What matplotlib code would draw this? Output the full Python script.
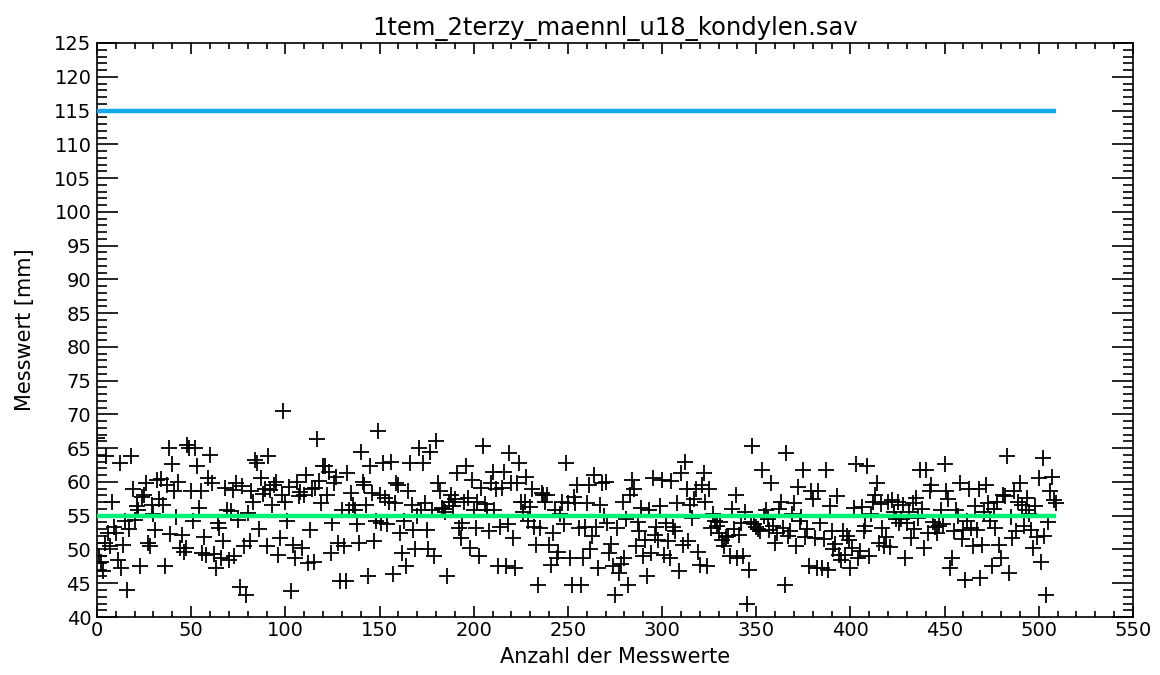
import numpy as np
import matplotlib
matplotlib.use("Agg")
import matplotlib.pyplot as plt
from matplotlib.ticker import MultipleLocator

title = "1tem_2terzy_maennl_u18_kondylen.sav"
xlabel = "Anzahl der Messwerte"
ylabel = "Messwert [mm]"

upper_limit = 115.0
mean_value = 55.0

seg1 = [66.5, 49.0, 48.2, 46.8, 51.0, 63.8, 52.4, 50.5, 57.1, 53.4, 52.4, 48.5, 62.8, 47.3,
        50.7, 54.2, 44.0, 53.0, 63.9, 58.9, 54.4, 56.4, 55.9, 47.6, 57.8, 58.1, 59.8, 51.0, 50.5,
        56.6, 55.2, 52.9, 60.3, 57.5, 60.4, 56.6, 47.5, 59.6, 65.0, 52.3, 62.6, 58.6, 54.8, 60.0, 50.2]
seg2 = [52.2, 49.7, 50.2, 65.5, 65.0, 58.6, 54.2, 65.0, 62.3, 56.1, 58.6, 49.5, 51.9, 49.2,
        60.6, 64.0, 59.8, 49.3, 47.2, 53.9, 53.2, 48.7, 51.2, 59.1, 55.9, 48.5, 55.7, 58.8,
        49.0, 59.8, 54.4, 44.5, 59.4, 50.5, 43.3, 55.4, 51.2, 58.6, 57.0, 63.3, 62.8, 53.0, 60.6, 58.2]
seg3 = [58.9, 50.5, 63.8, 58.8, 56.6, 59.5, 60.0, 49.2, 51.7, 58.1, 70.5, 57.1, 54.2, 59.3,
        43.8, 50.7, 48.7, 60.0, 57.9, 58.5, 50.2, 58.0, 61.0, 48.0, 52.9, 58.9, 48.1, 59.1,
        66.3, 60.2, 56.9, 62.3, 62.3, 58.1, 61.4, 49.5, 53.9, 59.8, 60.8, 51.0, 45.3, 55.9]
seg4 = [50.5, 45.3, 61.3, 55.9, 58.4, 56.6, 55.8, 53.7, 51.0, 64.5, 60.0, 59.6, 56.6, 46.0,
        62.3, 58.4, 51.2, 54.2, 67.5, 58.1, 53.9, 62.8, 57.6, 53.7, 57.0, 63.0, 46.3, 56.9,
        59.8, 59.5, 52.4, 49.5, 54.2, 47.5, 58.6, 62.8, 56.6, 52.9, 50.0, 55.0, 65.0, 55.9]
seg5 = [62.8, 56.9, 52.9, 50.0, 64.5, 55.9, 49.0, 66.0, 59.8, 58.6, 56.2, 56.0, 55.5, 46.0,
        57.1, 58.1, 56.5, 57.5, 61.3, 53.2, 51.7, 53.9, 57.1, 62.3, 57.6, 50.2, 60.3, 55.8,
        53.2, 57.1, 49.0, 59.1, 65.3, 56.8, 55.9, 52.7, 59.8, 61.5, 55.9, 58.9, 47.5, 53.4]
seg6 = [59.1, 61.5, 47.5, 53.7, 64.3, 59.8, 51.7, 47.2, 59.8, 62.8, 57.1, 55.5, 57.1, 60.8,
        54.2, 56.3, 58.9, 53.4, 50.7, 44.8, 53.2, 58.4, 58.0, 57.1, 58.1, 50.7, 47.7, 52.5,
        55.9, 48.7, 49.7, 55.2, 57.1, 53.7, 62.8, 56.9, 48.7, 44.8, 57.8, 56.9, 59.6, 53.2]
seg7 = [44.8, 48.7, 53.4, 56.9, 59.6, 50.0, 52.0, 61.0, 53.4, 47.2, 56.6, 59.8, 55.0, 60.0,
        53.9, 49.5, 50.8, 47.5, 43.3, 53.2, 46.5, 47.8, 57.1, 48.7, 54.5, 44.8, 58.0, 60.3,
        58.9, 50.5, 54.0, 52.7, 56.1, 49.0, 51.4, 46.0, 55.9, 49.5, 60.6, 52.2, 53.4, 51.4]
seg8 = [56.4, 60.3, 49.2, 53.9, 51.2, 48.7, 60.1, 53.4, 52.7, 56.9, 46.8, 61.3, 50.7, 63.0,
        58.9, 51.2, 56.6, 54.7, 57.5, 58.9, 49.7, 47.7, 59.5, 61.3, 57.1, 47.5, 58.9, 53.2,
        55.3, 54.2, 53.5, 52.5, 54.0, 51.4, 50.5, 51.9, 52.0, 49.0, 56.0, 53.0, 58.0, 48.7]
seg9 = [52.2, 53.9, 49.0, 55.6, 42.0, 47.0, 54.0, 65.3, 53.7, 53.3, 53.0, 52.8, 61.8, 55.0,
        55.9, 54.5, 52.9, 59.8, 53.5, 51.0, 52.5, 56.0, 57.1, 53.2, 44.8, 64.3, 52.0, 52.7,
        55.3, 56.9, 50.5, 59.3, 54.2, 54.8, 61.8, 51.9, 53.0, 47.5, 58.6, 57.5, 51.7, 47.3]
seg10 = [58.6, 53.9, 47.2, 51.5, 61.8, 47.0, 56.4, 52.7, 50.0, 50.8, 57.9, 49.2, 48.5, 52.7,
         49.2, 52.0, 51.4, 47.2, 50.2, 56.1, 62.6, 48.7, 49.8, 56.3, 52.7, 53.5, 62.3, 49.0,
         55.2, 57.1, 58.0, 59.8, 51.0, 56.8, 53.2, 50.5, 51.8, 57.0, 50.3, 57.4, 55.5, 54.5]
seg11 = [57.1, 53.9, 54.5, 56.6, 48.7, 53.9, 55.5, 51.7, 56.9, 53.0, 57.6, 54.7, 61.8, 56.0,
         50.2, 61.8, 52.5, 58.6, 59.6, 54.0, 53.4, 52.4, 53.5, 55.9, 53.7, 62.6, 58.6, 57.5,
         47.2, 48.7, 52.8, 55.9, 55.0, 59.8, 51.5, 52.9, 45.5, 54.2, 58.9, 53.2, 50.5, 56.5]
seg12 = [52.9, 58.9, 45.8, 50.7, 55.5, 59.6, 56.9, 54.2, 47.5, 56.0, 53.2, 57.1, 50.7, 48.7,
         58.0, 57.9, 63.8, 46.5, 54.8, 51.7, 58.6, 52.7, 57.0, 59.8, 56.6, 53.5, 55.9, 57.6,
         55.2, 52.9, 50.2, 56.5, 51.9, 60.6, 48.2, 63.5, 52.0, 43.3, 54.0, 58.6, 60.8, 57.3, 56.9]

values = seg1 + seg2 + seg3 + seg4 + seg5 + seg6 + seg7 + seg8 + seg9 + seg10 + seg11 + seg12

xticks = list(range(0, 551, 50))
yticks = list(range(40, 126, 5))

plt.rcParams['font.family'] = ['DejaVu Sans']
fig = plt.figure(figsize=(11.6, 6.75), dpi=100)
ax = fig.add_axes([0.0836, 0.0859, 0.8931, 0.8504])

n = len(values)
idx = np.arange(n)
ax.plot(idx, values, linestyle='none', marker='+', markersize=11, markeredgewidth=1.3,
        color='black', zorder=2)
ax.plot([0, n - 1], [upper_limit, upper_limit], color='#14A8F0', linewidth=3.2, zorder=3,
        solid_capstyle='butt')
ax.plot([0, n - 1], [mean_value, mean_value], color='#00F07A', linewidth=3.2, zorder=3,
        solid_capstyle='butt')

ax.set_xlim(0, 550)
ax.set_ylim(40, 125)
ax.set_xticks(xticks)
ax.set_yticks(yticks)
ax.xaxis.set_minor_locator(MultipleLocator(10))
ax.yaxis.set_minor_locator(MultipleLocator(1))
ax.tick_params(axis='y', which='major', direction='in', length=15, width=1.2,
               left=True, right=True, labelsize=14, pad=4)
ax.tick_params(axis='y', which='minor', direction='in', length=7.5, width=1.2,
               left=True, right=True)
ax.tick_params(axis='x', which='major', direction='in', length=8, width=1.2,
               bottom=True, top=True, labelsize=14, pad=3)
ax.tick_params(axis='x', which='minor', direction='in', length=4, width=1.2,
               bottom=True, top=True)
for s in ax.spines.values():
    s.set_linewidth(1.2)

ax.set_title(title, fontsize=17.5, pad=6)
ax.set_xlabel(xlabel, fontsize=15, labelpad=5)
ax.set_ylabel(ylabel, fontsize=15, labelpad=14)

fig.savefig("out.png", dpi=100)
